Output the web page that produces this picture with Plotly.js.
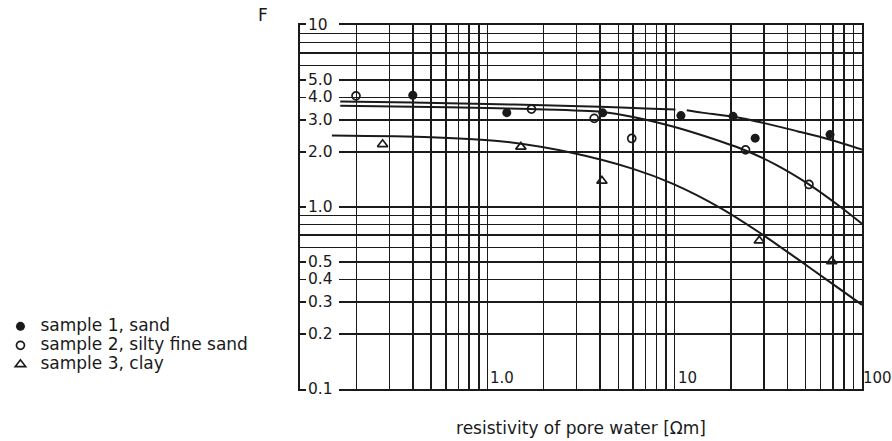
<!DOCTYPE html>
<html>
<head>
<meta charset="utf-8">
<script src="https://cdn.plot.ly/plotly-3.0.1.min.js"></script>
<style>html,body{margin:0;padding:0;background:#fff;}#chart{width:892px;height:441px;}</style>
</head>
<body>
<div id="chart"></div>
<script>
// ---- data ----
const sample1Name = 'sample 1, sand';
const sample1X = [0.40, 1.27, 4.13, 10.8, 20.5, 26.9, 67.5];
const sample1Y = [4.11, 3.30, 3.29, 3.18, 3.15, 2.39, 2.50];

const sample2Name = 'sample 2, silty fine sand';
const sample2X = [0.199, 1.72, 3.72, 5.90, 23.9, 52.1];
const sample2Y = [4.08, 3.45, 3.07, 2.38, 2.06, 1.33];

const sample3Name = 'sample 3, clay';
const sample3X = [0.276, 1.51, 4.09, 28.3, 68.9];
const sample3Y = [2.21, 2.14, 1.39, 0.653, 0.503];

// fitted curves (null = break in the drawn line)
const curve1X = [0.164, 0.4, 1, 2, 4, 7, 10.1, null, 11.6, 14, 20.7, 30, 45, 67, 100];
const curve1Y = [3.80, 3.75, 3.68, 3.62, 3.55, 3.48, 3.43, null, 3.40, 3.30, 3.13, 2.89, 2.61, 2.35, 2.07];
const curve2X = [0.164, 0.4, 1, 1.7, 4.1, 6, 10, 13.6, 23.2, 35, 52.8, 75, 100];
const curve2Y = [3.60, 3.56, 3.50, 3.45, 3.33, 3.12, 2.75, 2.50, 2.07, 1.70, 1.32, 1.02, 0.81];
const curve3X = [0.148, 0.5, 1.17, 2.86, 6, 9.8, 17.5, 28.6, 45, 64.4, 100];
const curve3Y = [2.47, 2.42, 2.30, 1.98, 1.62, 1.34, 0.99, 0.72, 0.52, 0.40, 0.29];

// axis tick labels / grid values
const xGridVals = [0.2,0.3,0.4,0.5,0.6,0.7,0.8,0.9,1,2,3,4,5,6,7,8,9,10,20,30,40,50,60,70,80,90,100];
const yGridVals = [0.1,0.2,0.3,0.4,0.5,0.6,0.7,0.8,0.9,1,2,3,4,5,6,7,8,9,10];
const xLabelVals = [1, 10, 100];
const xLabelText = ['1.0', '10', '100'];
const yLabelVals = [10, 5, 4, 3, 2, 1, 0.5, 0.4, 0.3, 0.2, 0.1];
const yLabelText = ['10', '5.0', '4.0', '3.0', '2.0', '1.0', '0.5', '0.4', '0.3', '0.2', '0.1'];
const xTitle = 'resistivity of pore water [Ωm]';
const yTitle = 'F';

// ---- styling ----
const FONT = 'DejaVu Sans, Liberation Sans, Arial, sans-serif';
const INK = '#1a1a1a';
const lg = s => '<span style="font-size:17px">' + s + '</span>';

const lineStyle = {color: INK, width: 2, shape: 'spline', smoothing: 0.8};
const traces = [
  {x: curve1X, y: curve1Y, mode: 'lines', line: lineStyle, connectgaps: false, showlegend: false, hoverinfo: 'skip'},
  {x: curve2X, y: curve2Y, mode: 'lines', line: lineStyle, showlegend: false, hoverinfo: 'skip'},
  {x: curve3X, y: curve3Y, mode: 'lines', line: lineStyle, showlegend: false, hoverinfo: 'skip'},
  {x: sample1X, y: sample1Y, mode: 'markers', name: lg(sample1Name),
   marker: {symbol: 'circle', size: 9, color: INK}},
  {x: sample2X, y: sample2Y, mode: 'markers', name: lg(sample2Name),
   marker: {symbol: 'circle-open', size: 8, color: INK, line: {width: 1.7, color: INK}}},
  {x: sample3X, y: sample3Y, mode: 'markers', name: lg(sample3Name),
   marker: {symbol: 'triangle-up-open', size: 9, color: INK, line: {width: 1.7, color: INK}}}
];

const annotations = [];
const shapes = [];
yLabelVals.forEach((v, i) => {
  // white gap in the grid line where the label sits (label is inside the plot)
  shapes.push({
    type: 'rect', layer: 'above',
    xref: 'paper', xsizemode: 'pixel', xanchor: 0, x0: 6, x1: 39,
    yref: 'paper', ysizemode: 'pixel', yanchor: (Math.log10(v) + 1) / 2, y0: -2.5, y1: 2.5,
    fillcolor: '#ffffff', line: {width: 0}
  });
  annotations.push({
    xref: 'paper', x: 0, xanchor: 'left', xshift: 6,
    yref: 'y', y: Math.log10(v), yanchor: 'middle',
    text: yLabelText[i], showarrow: false,
    font: {family: FONT, size: 15.5, color: INK}
  });
});
xLabelVals.forEach((v, i) => {
  annotations.push({
    xref: 'x', x: Math.log10(v), xanchor: 'left', xshift: (i === xLabelVals.length - 1) ? -1 : 1,
    yref: 'paper', y: 0, yanchor: 'middle', yshift: 11,
    text: xLabelText[i], showarrow: false,
    font: {family: FONT, size: 15, color: INK}
  });
});
annotations.push({
  xref: 'paper', x: -0.066, xanchor: 'center',
  yref: 'paper', y: 1.028, yanchor: 'middle',
  text: yTitle, showarrow: false,
  font: {family: FONT, size: 17, color: INK}
});

const layout = {
  width: 892, height: 441,
  margin: {l: 300, r: 30, t: 25, b: 52, autoexpand: false},
  paper_bgcolor: '#ffffff', plot_bgcolor: '#ffffff',
  font: {family: FONT, size: 17, color: INK},
  showlegend: true,
  legend: {x: -0.533, xanchor: 'left', y: 0.212, yanchor: 'top',
           font: {family: FONT, size: 12, color: INK}, bgcolor: 'rgba(0,0,0,0)'},
  xaxis: {
    type: 'log', range: [-1, 2], tickmode: 'array', tickvals: xGridVals,
    showticklabels: false, ticks: '', showgrid: true, gridcolor: INK, gridwidth: 1.5,
    showline: true, linecolor: INK, linewidth: 1.6, mirror: true, zeroline: false,
    title: {text: xTitle, font: {family: FONT, size: 17, color: INK}, standoff: 32}
  },
  yaxis: {
    type: 'log', range: [-1, 1], tickmode: 'array', tickvals: yGridVals,
    showticklabels: false, ticks: '', showgrid: true, gridcolor: INK, gridwidth: 1.5,
    showline: true, linecolor: INK, linewidth: 1.6, mirror: true, zeroline: false
  },
  shapes: shapes,
  annotations: annotations
};

Plotly.newPlot('chart', traces, layout, {displayModeBar: false, staticPlot: true});
</script>
</body>
</html>
